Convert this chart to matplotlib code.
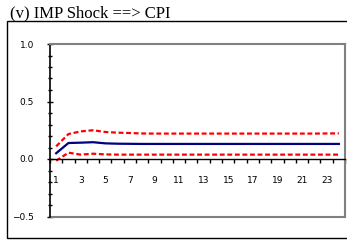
import matplotlib
matplotlib.use("Agg")
import matplotlib.pyplot as plt
import matplotlib.patches as mpatches
from matplotlib.ticker import MultipleLocator, FixedLocator
import numpy as np

# Impulse response of CPI to an IMP shock, 24 periods
periods = list(range(1, 25))
response = [0.05, 0.139, 0.142, 0.146, 0.136, 0.133, 0.132, 0.131, 0.131, 0.131,
            0.131, 0.131, 0.131, 0.131, 0.131, 0.131, 0.131, 0.131, 0.131, 0.131,
            0.131, 0.131, 0.131, 0.131]
upper = [0.11, 0.217, 0.24, 0.25, 0.235, 0.229, 0.226, 0.222, 0.221, 0.221,
         0.221, 0.221, 0.221, 0.221, 0.221, 0.221, 0.221, 0.221, 0.221, 0.221,
         0.221, 0.221, 0.222, 0.223]
lower = [-0.015, 0.055, 0.038, 0.046, 0.04, 0.038, 0.038, 0.038, 0.038, 0.038,
         0.038, 0.038, 0.038, 0.038, 0.038, 0.038, 0.038, 0.038, 0.038, 0.038,
         0.038, 0.038, 0.038, 0.038]
label_periods = list(range(1, 24, 2))
title = "(v) IMP Shock ==> CPI"

W, H = 347, 242
fig = plt.figure(figsize=(W / 100, H / 100), dpi=100)

# outer frame
frame = mpatches.Rectangle((7 / W, (H - 238) / H), 345 / W, (238 - 21) / H,
                           transform=fig.transFigure, fill=False,
                           edgecolor="black", linewidth=1.0)
fig.patches.append(frame)
fig.text(10 / W, (H - 17) / H, title, ha="left", va="baseline",
         family="Liberation Serif", fontsize=12)

ax = fig.add_axes([50 / W, (H - 216.5) / H, 295 / W, (216.5 - 44) / H])
ax.set_xlim(0.5, 24.5)
ax.set_ylim(-0.5, 1.0)

ax.plot(periods, upper, color="#ff0000", lw=1.6, dashes=(2.2, 1.2))
ax.plot(periods, lower, color="#ff0000", lw=1.6, dashes=(2.2, 1.2))
ax.plot(periods, response, color="#000080", lw=1.6)

# borders
for s in ["top", "right"]:
    ax.spines[s].set_color("#808080")
    ax.spines[s].set_linewidth(1.5)
ax.spines["left"].set_color("black")
ax.spines["left"].set_linewidth(1.2)
ax.spines["bottom"].set_position(("data", 0))
ax.spines["bottom"].set_color("black")
ax.spines["bottom"].set_linewidth(1.0)
ax.plot([0.5, 24.5], [-0.5, -0.5], color="#808080", lw=1.5, clip_on=False)

# y axis
ax.yaxis.set_major_locator(MultipleLocator(0.5))
ax.yaxis.set_minor_locator(MultipleLocator(0.1))
ax.yaxis.set_major_formatter(plt.FuncFormatter(lambda v, p: f"{v:.1f}".replace("-", "\u2212")))
ax.tick_params(axis="y", which="major", direction="inout", length=5, width=1,
               labelsize=6.5, pad=9)
ax.tick_params(axis="y", which="minor", direction="inout", length=2.5, width=1)

# x axis: ticks between categories, labels on categories
ax.xaxis.set_major_locator(FixedLocator(np.arange(0.5, 25, 1)))
ax.xaxis.set_major_formatter(plt.NullFormatter())
ax.xaxis.set_minor_locator(FixedLocator(label_periods))
ax.xaxis.set_minor_formatter(plt.FixedFormatter([str(p) for p in label_periods]))
ax.tick_params(axis="x", which="major", direction="out", length=3, width=1)
ax.tick_params(axis="x", which="minor", length=0, labelsize=6.5, pad=12)

for lab in ax.get_xticklabels(minor=True) + ax.get_yticklabels():
    lab.set_family("DejaVu Sans")

fig.savefig("out.png", dpi=100)
